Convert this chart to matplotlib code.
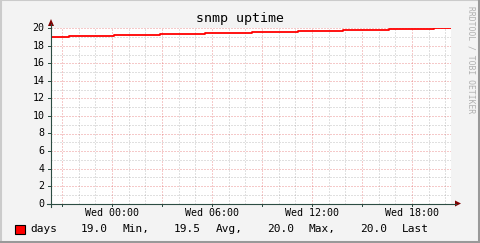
import matplotlib
matplotlib.use('Agg')
import matplotlib.pyplot as plt
from matplotlib.patches import Rectangle, Polygon
from matplotlib.lines import Line2D

# hours relative to Wed 00:00
step_hours = [-3.66, -2.56, 0.14, 2.88, 5.58, 8.38, 11.18, 13.88, 16.62, 19.32, 20.34]
day_values = [19.0, 19.11, 19.22, 19.33, 19.44, 19.56, 19.67, 19.78, 19.89, 20.0, 20.0]
tick_hours = [0, 6, 12, 18]
tick_labels = ['Wed 00:00', 'Wed 06:00', 'Wed 12:00', 'Wed 18:00']
y_ticks = [0, 2, 4, 6, 8, 10, 12, 14, 16, 18, 20]
stat_names = ['Min,', 'Avg,', 'Max,', 'Last']
stat_values = [19.0, 19.5, 20.0, 20.0]

W, H = 481, 243
mono = 'DejaVu Sans Mono'
grid_c = (0.56, 0.56, 0.56, 0.55)
mgrid_c = (0.87, 0.31, 0.31, 0.6)
axis_c = '#2C4D43'
arrow_c = '#7F0000'

fig = plt.figure(figsize=(W / 100, H / 100), dpi=100, facecolor='#F3F3F3')

def px(x, y):
    return x / W, 1 - y / H

# frame shading
fig.add_artist(Line2D([0, 1], [1 - 0.5 / H] * 2, color='#CBCBCB', lw=1.5))
fig.add_artist(Line2D([0.5 / W] * 2, [0, 1], color='#CBCBCB', lw=1.5))
fig.add_artist(Line2D([0, 1], [1.5 / H] * 2, color='#999999', lw=2.2))
fig.add_artist(Line2D([1 - 1.5 / W] * 2, [0, 1], color='#999999', lw=2.2))

x0, x1, ytop, ybot = 51, 451, 28.5, 203.5
ax = fig.add_axes([x0 / W, 1 - ybot / H, (x1 - x0) / W, (ybot - ytop) / H])
ax.set_facecolor('white')
ax.set_xlim(step_hours[0], step_hours[-1])
ax.set_ylim(0, 20)
for s in ax.spines.values():
    s.set_visible(False)
ax.set_xticks([])
ax.set_yticks([])

# minor grid
for h in range(-3, 21):
    if h % 3 != 0:
        ax.axvline(h, color=grid_c, lw=0.72, ls=(0, (1, 2)), zorder=1)
for v in range(1, 21, 2):
    ax.axhline(v, color=grid_c, lw=0.72, ls=(0, (1, 2)), zorder=1)
# major grid
for h in range(-3, 21, 3):
    ax.axvline(h, color=mgrid_c, lw=0.72, ls=(0, (1, 2)), zorder=1)
for v in y_ticks[1:]:
    ax.axhline(v, color=mgrid_c, lw=0.72, ls=(0, (1, 2)), zorder=1)

ax.step(step_hours, day_values, where='post', color='#FF0000', lw=1.3, zorder=3)

# labels
for h, lab in zip(tick_hours, tick_labels):
    xf = ax.transData.transform((h, 0))[0] / W
    fig.text(xf, 1 - 212.5 / H, lab, ha='center', va='center', fontsize=7.2, family=mono)
for v in y_ticks:
    yf = ax.transData.transform((0, v))[1] / H
    fig.text(44.5 / W, yf, str(v), ha='right', va='center', fontsize=7.2, family=mono)
    fig.add_artist(Line2D([47.5 / W, 51 / W], [yf, yf], color=axis_c, lw=0.72))
for h in range(-3, 21, 3):
    xf = ax.transData.transform((h, 0))[0] / W
    fig.add_artist(Line2D([xf, xf], [1 - 203.5 / H, 1 - 205.5 / H], color=axis_c, lw=0.72))

# axes with arrows
fig.add_artist(Line2D(*zip(px(51, 207), px(51, 24)), color=axis_c, lw=0.8))
fig.add_artist(Line2D(*zip(px(47, 203.5), px(456, 203.5)), color=axis_c, lw=0.8))
fig.add_artist(Polygon([px(48, 26), px(54, 26), px(51, 19)], closed=True, color=arrow_c, lw=0))
fig.add_artist(Polygon([px(455, 200.5), px(455, 206.5), px(461, 203.5)], closed=True, color=arrow_c, lw=0))

fig.text(240 / W, 1 - 18.5 / H, 'snmp uptime', ha='center', va='center', fontsize=9.5, family=mono)
fig.text(471 / W, 1 - 60 / H, 'RRDTOOL / TOBI OETIKER', ha='center', va='center', rotation=270,
         fontsize=5.8, family=mono, color='#B0B0B0')

# legend
fig.add_artist(Rectangle(px(15.5, 233.5), 9 / W, 9 / H, facecolor='#FF0000', edgecolor='black', lw=0.8))
ly = 1 - 229 / H
fs = 8
fig.text(30 / W, ly, 'days', ha='left', va='center', fontsize=fs, family=mono)
val_x = [81, 174, 267, 360]
name_x = [123, 216, 309, 402]
for vx, nx, v, n in zip(val_x, name_x, stat_values, stat_names):
    fig.text(vx / W, ly, f'{v:.1f}', ha='left', va='center', fontsize=fs, family=mono)
    fig.text(nx / W, ly, n, ha='left', va='center', fontsize=fs, family=mono)

fig.savefig('out.png', dpi=100, facecolor=fig.get_facecolor())
